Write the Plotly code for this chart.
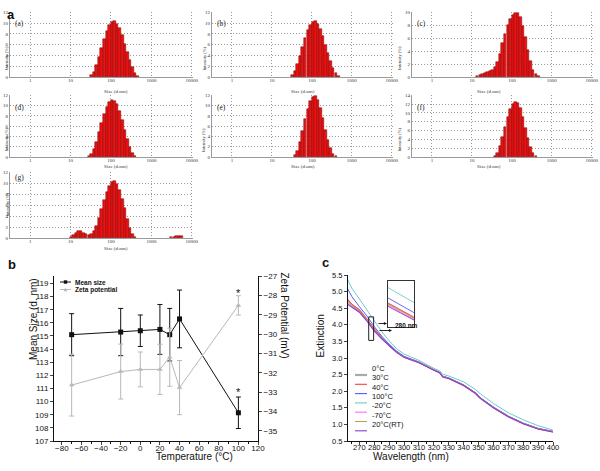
import numpy as np
import plotly.graph_objects as go

W, H = 600, 471

# ---------------- Panel a: DLS size distributions ----------------
size_classes = [10.1, 11.7, 13.54, 15.69, 18.17, 21.04, 24.36, 28.21, 32.67, 37.84,
                43.82, 50.75, 58.77, 68.06, 78.82, 91.28, 105.7, 122.4, 141.8, 164.2,
                190.1, 220.2, 255.0, 295.3, 342.0, 396.1, 458.7, 531.2, 615.1, 712.4,
                825.0, 955.4, 1106, 1281, 1484, 1718, 1990, 2305, 2669, 3091,
                3580, 4145, 4801, 5560, 6439]

intensity_a = [0, 0, 0, 0, 0, 0, 0, 0, 0.3, 1.0, 2.2, 3.7, 5.4, 7.1, 8.6, 9.6, 10.2, 10.3, 9.9, 9.0,
               7.7, 6.2, 4.6, 3.1, 1.8, 0.8, 0.2, 0, 0, 0, 0, 0, 0, 0, 0, 0, 0, 0, 0, 0,
               0, 0, 0, 0, 0]
intensity_b = [0, 0, 0, 0, 0, 0, 0, 0, 0.4, 1.2, 2.4, 3.9, 5.6, 7.3, 8.7, 9.7, 10.2, 10.3, 9.8, 8.9,
               7.6, 6.0, 4.4, 2.9, 1.6, 0.7, 0.2, 0, 0, 0, 0, 0, 0, 0, 0, 0, 0, 0, 0, 0,
               0, 0, 0, 0, 0]
intensity_c = [0, 0, 0.1, 0.25, 0.4, 0.55, 0.7, 0.85, 1.1, 1.5, 2.3, 3.6, 5.2, 6.7, 8.0, 9.0, 9.6, 9.9, 9.9, 9.2,
               7.9, 6.1, 4.2, 2.4, 1.1, 0.4, 0.1, 0, 0, 0, 0, 0, 0, 0, 0, 0, 0, 0, 0, 0,
               0, 0, 0, 0, 0]
intensity_d = [0, 0, 0, 0, 0, 0, 0, 0.2, 0.6, 1.6, 3.0, 4.8, 6.6, 8.3, 9.7, 10.6, 11.0, 10.9, 10.2, 8.9,
               7.2, 5.3, 3.5, 1.9, 0.8, 0.2, 0, 0, 0, 0, 0, 0, 0, 0, 0, 0, 0, 0, 0, 0,
               0, 0, 0, 0, 0]
intensity_e = [0, 0, 0, 0, 0, 0, 0, 0, 0, 0.3, 1.2, 2.9, 5.0, 7.3, 9.3, 10.8, 11.6, 11.8, 11.0, 9.5,
               7.5, 5.3, 3.3, 1.7, 0.6, 0.1, 0, 0, 0, 0, 0, 0, 0, 0, 0, 0, 0, 0, 0, 0,
               0, 0, 0, 0, 0]
intensity_f = [0, 0, 0, 0, 0, 0, 0, 0, 0, 0.3, 1.0, 2.5, 4.5, 6.8, 9.0, 10.8, 11.9, 12.4, 12.2, 11.0,
               9.0, 6.6, 4.3, 2.3, 0.9, 0.2, 0, 0, 0, 0, 0, 0, 0, 0, 0, 0, 0, 0, 0, 0,
               0, 0, 0, 0, 0]
intensity_g = [0.15, 0.5, 0.9, 1.2, 1.25, 1.0, 0.7, 0.6, 0.8, 1.2, 2.2, 3.6, 5.2, 6.9, 8.4, 9.5, 10.2, 10.4, 9.9, 8.8,
               7.2, 5.4, 3.5, 1.9, 0.8, 0.2, 0, 0, 0, 0, 0, 0, 0, 0, 0, 0, 0, 0, 0, 0.1,
               0.2, 0.3, 0.4, 0.45, 0]

hist_labels = ['(a)', '(b)', '(c)', '(d)', '(e)', '(f)', '(g)']
hist_ymax = [12, 12, 10, 12, 12, 14, 12]
size_tick_values = [1, 10, 100, 1000, 10000]
size_tick_labels = ['1', '10', '100', '1000', '10000']

# ---------------- Panel b: mean size & zeta potential ----------------
temperature = [-70, -20, 0, 20, 30, 40, 100]
mean_size = [115.1, 115.3, 115.4, 115.5, 115.1, 116.3, 109.15]
mean_size_err = [1.6, 1.8, 1.2, 1.9, 2.0, 2.2, 1.2]
zeta_potential = [-32.64, -31.94, -31.83, -31.83, -31.2, -32.77, -28.52]
zeta_err = [1.6, 1.42, 0.9, 1.3, 1.5, 1.4, 0.5]

# ---------------- Panel c: extinction spectra ----------------
wavelength = [262, 265, 270, 275, 280, 285, 290, 295, 300, 310, 320, 324, 326, 330, 340, 348, 351, 360, 370, 380, 390, 400]
ext_0C = [4.74, 4.60, 4.44, 4.17, 3.86, 3.61, 3.38, 3.18, 3.03, 2.87, 2.64, 2.56, 2.44, 2.39, 2.18, 1.94, 1.80, 1.51, 1.24, 1.03, 0.87, 0.78]
ext_30C = [4.78, 4.62, 4.46, 4.18, 3.87, 3.61, 3.39, 3.19, 3.03, 2.87, 2.64, 2.56, 2.44, 2.39, 2.18, 1.94, 1.80, 1.51, 1.24, 1.03, 0.87, 0.78]
ext_40C = [5.10, 4.85, 4.55, 4.27, 3.95, 3.66, 3.42, 3.21, 3.05, 2.88, 2.65, 2.57, 2.45, 2.40, 2.19, 1.95, 1.81, 1.52, 1.25, 1.04, 0.88, 0.79]
ext_100C = [5.38, 5.10, 4.78, 4.45, 4.12, 3.80, 3.52, 3.28, 3.12, 2.93, 2.69, 2.61, 2.51, 2.46, 2.28, 2.05, 1.93, 1.63, 1.35, 1.14, 0.96, 0.83]
ext_m20C = [4.66, 4.55, 4.40, 4.14, 3.83, 3.59, 3.37, 3.17, 3.02, 2.86, 2.63, 2.55, 2.43, 2.38, 2.17, 1.93, 1.79, 1.50, 1.23, 1.02, 0.86, 0.77]
ext_m70C = [4.72, 4.58, 4.42, 4.16, 3.85, 3.60, 3.38, 3.18, 3.03, 2.87, 2.64, 2.56, 2.44, 2.39, 2.18, 1.94, 1.80, 1.51, 1.24, 1.03, 0.87, 0.78]
ext_20C_RT = [4.62, 4.52, 4.38, 4.12, 3.82, 3.58, 3.36, 3.17, 3.02, 2.86, 2.63, 2.55, 2.43, 2.38, 2.17, 1.93, 1.79, 1.50, 1.23, 1.02, 0.86, 0.77]
spectra_names = ['0°C', '30°C', '40°C', '100°C', '-20°C', '-70°C', '20°C(RT)']
spectra_values = [ext_0C, ext_30C, ext_40C, ext_100C, ext_m20C, ext_m70C, ext_20C_RT]
spectra_colors = ['#a9a9a9', '#ff3b3b', '#5a5aff', '#6fcaca', '#ff6bff', '#b5a45c', '#8a3ccf']
spectra_widths = [1.6, 1, 1, 1, 1, 1, 1.1]

SANS = 'Arial, Liberation Sans, sans-serif'
SERIF = 'Times New Roman, Liberation Serif, serif'


def fx(px):
    return px / W


def fy(py):
    return 1 - py / H


def ax_name(i, kind):
    return kind if i == 1 else f'{kind}{i}'


fig = go.Figure()
layout = {}
annotations = []
shapes = []

# ---------- histogram panels ----------
cols = [(10, 193), (212, 393), (412, 593)]
rows = [(12, 77), (95, 157), (172, 238)]
positions = [(0, 0), (0, 1), (0, 2), (1, 0), (1, 1), (1, 2), (2, 0)]
hist_data = [intensity_a, intensity_b, intensity_c, intensity_d, intensity_e, intensity_f, intensity_g]

log_size = np.log10(np.array(size_classes, dtype=float))
bin_width = np.gradient(log_size)
tick_pos = np.log10(np.array(size_tick_values, dtype=float))
GRID = dict(showgrid=True, gridcolor='#9a9a9a', griddash='1px,2px', gridwidth=0.8)

for k, vals in enumerate(hist_data):
    i = k + 1
    r, c = positions[k]
    x0, x1 = cols[c]
    y0, y1 = rows[r]
    v = np.array(vals, dtype=float)
    nz = v > 0
    fig.add_trace(go.Bar(x=log_size[nz], y=v[nz], width=bin_width[nz] * 0.98,
                         marker=dict(color='#ee1111', line=dict(color='#7a0000', width=0.5)),
                         xaxis=ax_name(i, 'x'), yaxis=ax_name(i, 'y'), showlegend=False,
                         hoverinfo='skip'))
    layout[ax_name(i, 'xaxis')] = dict(
        domain=[fx(x0), fx(x1)], anchor=ax_name(i, 'y'), range=[-0.5, 4.03],
        tickvals=list(tick_pos), ticktext=size_tick_labels, showline=True,
        linecolor='#9a9a9a', linewidth=0.8, ticks='', zeroline=False, automargin=False,
        tickfont=dict(family=SERIF, size=5, color='#333'), tickangle=0, ticklabelstandoff=-2, **GRID)
    layout[ax_name(i, 'yaxis')] = dict(
        domain=[fy(y1), fy(y0)], anchor=ax_name(i, 'x'), range=[0, hist_ymax[k] * 1.003],
        dtick=2, showline=True, linecolor='#9a9a9a', linewidth=0.8, ticks='', zeroline=False,
        automargin=False, tickfont=dict(family=SERIF, size=5, color='#333'), ticklabelstandoff=0, **GRID)
    annotations.append(dict(text='Size (d.nm)', x=fx((x0 + x1) / 2), y=fy(y1 + 10),
                            xref='paper', yref='paper', showarrow=False,
                            font=dict(family=SERIF, size=5, color='#333')))
    annotations.append(dict(text='Intensity (%)', x=fx(x0 - 8), y=fy((y0 + y1) / 2),
                            xref='paper', yref='paper', showarrow=False, textangle=-90,
                            font=dict(family=SERIF, size=4.5, color='#333')))
    annotations.append(dict(text=hist_labels[k], x=fx(x0 + 3), y=fy(y0 + 5.5),
                            xref='paper', yref='paper', showarrow=False, xanchor='left',
                            font=dict(family=SERIF, size=7.5, color='#222')))

# ---------- panel b ----------
bx0, bx1, by0, by1 = 54, 258, 276, 441
fig.add_trace(go.Scatter(x=temperature, y=mean_size, mode='lines+markers',
                         line=dict(color='#111', width=1),
                         marker=dict(symbol='square', size=5, color='#111'),
                         error_y=dict(type='data', array=mean_size_err, color='#111', thickness=1, width=2.5),
                         xaxis='x8', yaxis='y8', showlegend=False, name='Mean size'))
fig.add_trace(go.Scatter(x=temperature, y=zeta_potential, mode='lines+markers',
                         line=dict(color='#b8b8b8', width=1),
                         marker=dict(symbol='triangle-up', size=5, color='#b8b8b8'),
                         error_y=dict(type='data', array=zeta_err, color='#b8b8b8', thickness=1, width=2.5),
                         xaxis='x8', yaxis='y9', showlegend=False, name='Zeta potential'))
tickfont_b = dict(family=SANS, size=8, color='#111')
COMMON = dict(ticks='outside', ticklen=3, tickwidth=0.8, showline=True, linecolor='#111', linewidth=0.9,
              showgrid=False, zeroline=False, tickfont=tickfont_b, automargin=False)
layout['xaxis8'] = dict(domain=[fx(bx0), fx(bx1)], anchor='y8', range=[-88, 120], dtick=20, tick0=0,
                        tickangle=0, ticklabelstandoff=-4,
                        minor=dict(dtick=10, ticks='outside', ticklen=2, tickcolor='#111'), **COMMON)
layout['yaxis8'] = dict(domain=[fy(by1), fy(by0)], anchor='x8', range=[107, 119.57], dtick=1, **COMMON)
layout['yaxis9'] = dict(overlaying='y8', side='right', anchor='x8', range=[-35.53, -27], dtick=1, **COMMON)
annotations += [
    dict(text='Mean Size (d. nm)', x=fx(26), y=fy((by0 + by1) / 2 + 4), xref='paper', yref='paper',
         showarrow=False, textangle=-90, font=dict(family=SANS, size=10, color='#111')),
    dict(text='Zeta Potential (mV)', x=fx(284), y=fy((by0 + by1) / 2 + 2), xref='paper', yref='paper',
         showarrow=False, textangle=90, font=dict(family=SANS, size=10, color='#111')),
    dict(text='Temperature (°C)', x=fx(154), y=fy(464), xref='paper', yref='paper',
         showarrow=False, font=dict(family=SANS, size=10, color='#111')),
    dict(text='Mean size', x=fx(73), y=fy(282), xref='paper', yref='paper', xanchor='left',
         showarrow=False, font=dict(family=SANS, size=6.5, color='#111', weight='bold')),
    dict(text='Zeta potential', x=fx(73), y=fy(289.5), xref='paper', yref='paper', xanchor='left',
         showarrow=False, font=dict(family=SANS, size=6.5, color='#111', weight='bold')),
    dict(text='*', x=100, y=-27.74, xref='x8', yref='y9', yshift=-3, showarrow=False,
         font=dict(family=SANS, size=11, color='#111')),
    dict(text='*', x=100, y=110.95, xref='x8', yref='y8', yshift=-3, showarrow=False,
         font=dict(family=SANS, size=11, color='#111')),
]
shapes += [
    dict(type='line', xref='paper', yref='paper', x0=fx(60), x1=fx(71), y0=fy(282), y1=fy(282),
         line=dict(color='#111', width=1)),
    dict(type='rect', xref='paper', yref='paper', x0=fx(63.8), x1=fx(67.2), y0=fy(283.7), y1=fy(280.3),
         fillcolor='#111', line=dict(width=0)),
    dict(type='line', xref='paper', yref='paper', x0=fx(60), x1=fx(71), y0=fy(289.5), y1=fy(289.5),
         line=dict(color='#b8b8b8', width=1)),
    dict(type='path', xref='paper', yref='paper',
         path=f'M {fx(63.6)},{fy(291.3)} L {fx(67.4)},{fy(291.3)} L {fx(65.5)},{fy(287.6)} Z',
         fillcolor='#b8b8b8', line=dict(width=0)),
]

# ---------- panel c ----------
cx0, cx1, cy0, cy1 = 348, 553, 275, 441
ix0, ix1, iy0, iy1 = 388, 414, 281, 327
for name, vals, col, lw in zip(spectra_names, spectra_values, spectra_colors, spectra_widths):
    fig.add_trace(go.Scatter(x=wavelength, y=vals, mode='lines', line=dict(color=col, width=lw),
                             xaxis='x10', yaxis='y10', showlegend=False, name=name))
    fig.add_trace(go.Scatter(x=wavelength, y=vals, mode='lines', line=dict(color=col, width=0.9),
                             xaxis='x11', yaxis='y11', showlegend=False, name=name, hoverinfo='skip'))
tickfont_c = dict(family=SANS, size=7.5, color='#111')
COMMON_C = dict(COMMON, tickfont=tickfont_c)
layout['xaxis10'] = dict(domain=[fx(cx0), fx(cx1)], anchor='y10', range=[262.4, 400], dtick=10, tick0=270,
                         tickangle=0, ticklabelstandoff=-4,
                         minor=dict(dtick=5, ticks='outside', ticklen=2, tickcolor='#111'), **COMMON_C)
layout['yaxis10'] = dict(domain=[fy(cy1), fy(cy0)], anchor='x10', range=[0.5, 5.5], dtick=0.5, tick0=0.5,
                         tickformat='.1f', **COMMON_C)
INSET = dict(showticklabels=False, ticks='', showline=True, mirror=True, linecolor='#333', linewidth=1.4,
             showgrid=False, zeroline=False, automargin=False)
layout['xaxis11'] = dict(domain=[fx(ix0), fx(ix1)], anchor='y11', range=[276, 280], **INSET)
layout['yaxis11'] = dict(domain=[fy(iy1), fy(iy0)], anchor='x11', range=[3.7, 4.5], **INSET)
annotations += [
    dict(text='Extinction', x=fx(320), y=fy((cy0 + cy1) / 2 + 2), xref='paper', yref='paper',
         showarrow=False, textangle=-90, font=dict(family=SANS, size=10, color='#111')),
    dict(text='Wavelength (nm)', x=fx(451), y=fy(464), xref='paper', yref='paper',
         showarrow=False, font=dict(family=SANS, size=10, color='#111')),
    dict(text='', x=fx(387), y=fy(323.5), ax=-10, ay=0, xref='paper', yref='paper', showarrow=True,
         arrowhead=2, arrowsize=0.7, arrowwidth=0.9, arrowcolor='#111'),
    dict(text='', x=fx(392), y=fy(330.5), ax=-14, ay=0, xref='paper', yref='paper', showarrow=True,
         arrowhead=2, arrowsize=0.7, arrowwidth=0.9, arrowcolor='#111'),
    dict(text='280 nm', x=fx(392.5), y=fy(331), xref='paper', yref='paper', xanchor='left',
         showarrow=False, font=dict(family=SANS, size=6.5, color='#111', weight='bold')),
]
shapes.append(dict(type='rect', xref='x10', yref='y10', x0=276.3, x1=279.6, y0=3.53, y1=4.24,
                   line=dict(color='#222', width=1)))
for k, (name, col) in enumerate(zip(spectra_names, spectra_colors)):
    yy = 375 + k * 9.3
    shapes.append(dict(type='line', xref='paper', yref='paper', x0=fx(355), x1=fx(367), y0=fy(yy), y1=fy(yy),
                       line=dict(color=col, width=2.2 if k == 0 else 1.1)))
    annotations.append(dict(text=name, x=fx(369.5), y=fy(yy), xref='paper', yref='paper', xanchor='left',
                            showarrow=False, font=dict(family=SANS, size=7.5, color='#111')))

# ---------- panel letters ----------
for letter, px, py in [('a', 6, 5.5), ('b', 7, 264), ('c', 325, 262)]:
    annotations.append(dict(text=letter, x=fx(px), y=fy(py), xref='paper', yref='paper', showarrow=False,
                            borderpad=0, font=dict(family=SANS, size=13, color='#111', weight='bold')))

fig.update_layout(width=W, height=H, margin=dict(l=0, r=0, t=0, b=0, autoexpand=False), plot_bgcolor='white',
                  paper_bgcolor='white', showlegend=False, bargap=0, annotations=annotations,
                  shapes=shapes, **layout)
fig.write_html('out.html', config={'displayModeBar': False},
               post_script="document.body.style.margin='0px';document.body.style.overflow='hidden';")
